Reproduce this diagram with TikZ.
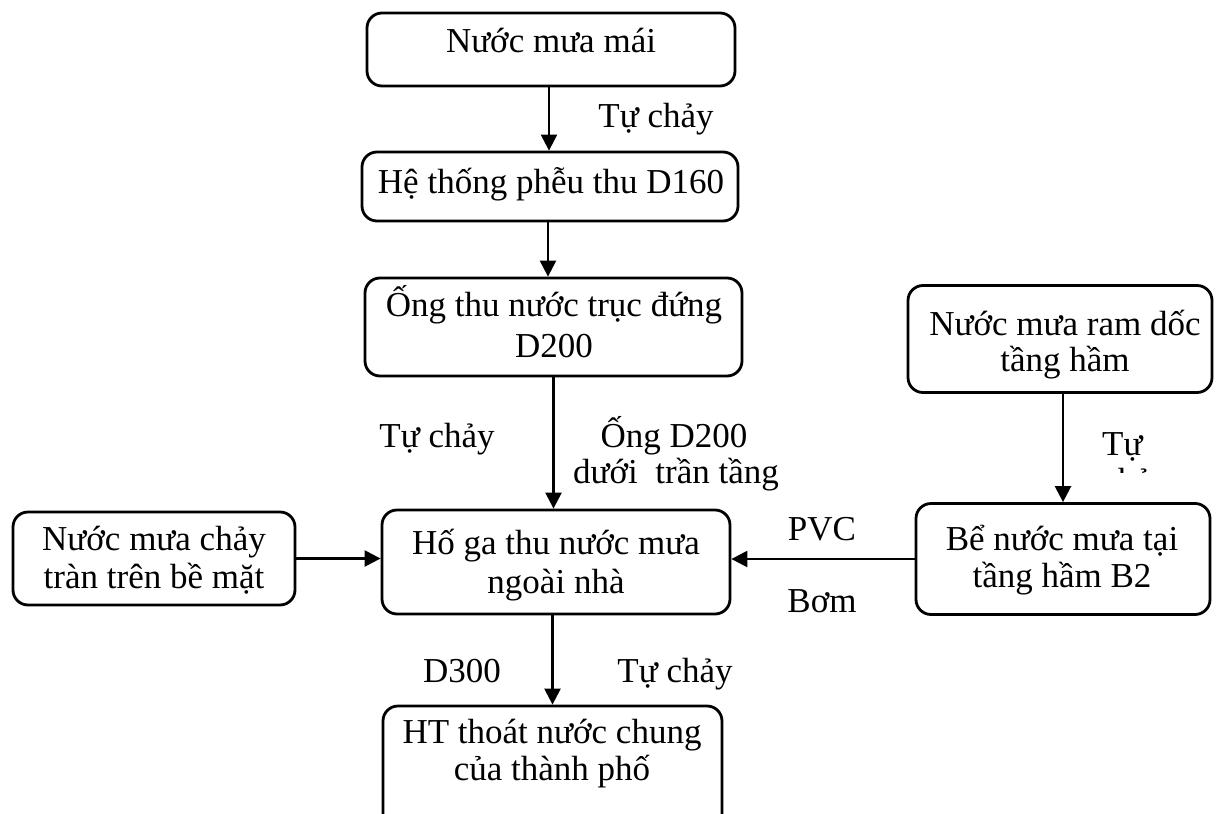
\documentclass[tikz,border=0pt]{standalone}
\usepackage{fontspec}
\setmainfont{Liberation Serif}
\usetikzlibrary{arrows.meta}
\begin{document}
\begin{tikzpicture}[x=1pt,y=-1pt,
  box/.style={draw, line width=2.8pt, rounded corners=15pt, inner sep=0pt},
  txt/.style={inner sep=0pt, anchor=base, font=\fontsize{35}{40}\selectfont},
  ltxt/.style={txt, anchor=base west},
  flow/.style={line width=2.4pt, -{Triangle[width=16pt,length=16pt]}}]
\useasboundingbox (0,0) rectangle (1216,814);
\clip (0,0) rectangle (1216,814);
\fill[white] (0,0) rectangle (1216,814);

% boxes
\node[box, minimum width=368pt, minimum height=73pt]  (b1) at (551,49.5) {};
\node[box, minimum width=376pt, minimum height=69pt]  (b2) at (550,186.5) {};
\node[box, minimum width=377pt, minimum height=98pt]  (b3) at (553.5,327) {};
\node[box, minimum width=348pt, minimum height=104pt] (b4) at (556,562) {};
\node[box, minimum width=282pt, minimum height=93pt]  (b5) at (154,558.5) {};
\node[box, minimum width=304pt, minimum height=107pt] (b6) at (1060,339) {};
\node[box, minimum width=294pt, minimum height=111pt] (b7) at (1063,559) {};
\node[box, minimum width=339pt, minimum height=150pt] (b8) at (552.5,781) {};

% box texts
\node[txt] (t1)  at (551,52)  {Nước mưa mái};
\node[txt] (t2)  at (551,193) {Hệ thống phễu thu D160};
\node[txt] (t3a) at (554,316) {Ống thu nước trục đứng};
\node[txt] (t3b) at (554,357) {D200};
\node[txt] (t4a) at (556,554) {Hố ga thu nước mưa};
\node[txt] (t4b) at (556,593) {ngoài nhà};
\node[txt] (t5a) at (154,550) {Nước mưa chảy};
\node[txt] (t5b) at (154,588) {tràn trên bề mặt};
\node[txt] (t6a) at (1065,335) {Nước mưa ram dốc};
\node[txt] (t6b) at (1065,371) {tầng hầm};
\node[txt] (t7a) at (1062,550) {Bể nước mưa tại};
\node[txt] (t7b) at (1062,587) {tầng hầm B2};
\node[txt] (t8a) at (552,743) {HT thoát nước chung};
\node[txt] (t8b) at (552,780) {của thành phố};

% connectors
\draw[flow] ([xshift=-2pt]b1.south) -- ([xshift=-2pt]b1.south |- b2.north);
\draw[flow] ([xshift=-2pt]b2.south) -- ([xshift=-2pt]b2.south |- b3.north);
\draw[flow] (b3.south) -- (b3.south |- b4.north);
\draw[flow] (b8.north |- b4.south) -- (b8.north);
\draw[flow] (b5.east) -- (b5.east -| b4.west);
\draw[flow] (b7.west) -- (b7.west -| b4.east);
\draw[flow] ([xshift=3pt]b6.south) -- ([xshift=3pt]b6.south |- b7.north);

% connector labels
\node[txt] (l1) at (656,127) {Tự chảy};
\node[txt] (l2) at (437,447) {Tự chảy};
\node[txt] (l3a) at (674,447) {Ống D200};
\node[txt] (l3b) at (676,483) {dưới~~trần tầng};
\node[txt] (l4) at (822,540) {PVC};
\node[txt] (l5) at (822,612) {Bơm};
\node[txt] (l6) at (462,682) {D300};
\node[txt] (l7) at (675,682) {Tự chảy};
\node[ltxt] (l8a) at (1102,455) {Tự};
\begin{scope}
  \clip (1090,440) rectangle (1170,472);
  \node[ltxt] (l8b) at (1102,492) {chảy};
\end{scope}
\end{tikzpicture}
\end{document}
